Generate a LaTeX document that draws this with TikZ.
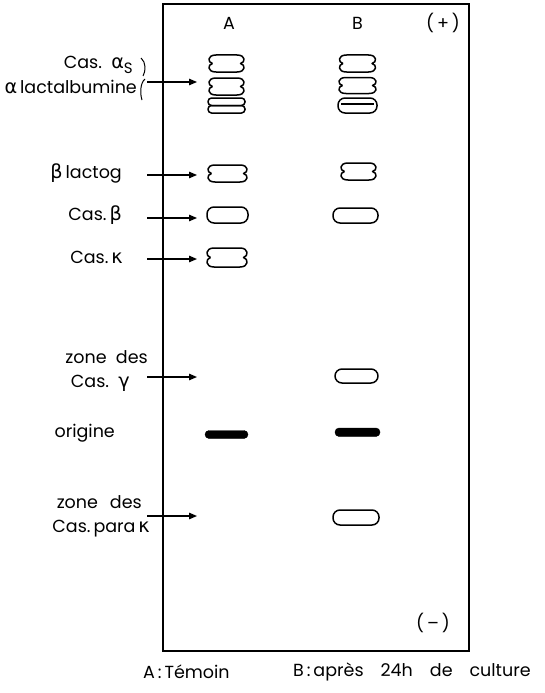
\documentclass[tikz,border=0pt]{standalone}
\usepackage{fontspec}
\setmainfont{Poppins}
\newfontfamily\grk[Scale=1.1]{DejaVu Sans}
\usetikzlibrary{arrows.meta}

% band with pinched (notched) sides: centre x, centre y, half width, half height
\newcommand\nband[4]{%
  \draw[band] ({#1-#3+4.5},#2)
    .. controls ({#1-#3-0.5},{#2-0.12*#4}) and ({#1-#3-1},{#2-#4}) .. ({#1-#3+8},{#2-#4})
    -- ({#1+#3-8},{#2-#4})
    .. controls ({#1+#3+1},{#2-#4}) and ({#1+#3+0.5},{#2-0.12*#4}) .. ({#1+#3-4.5},#2)
    .. controls ({#1+#3+0.5},{#2+0.12*#4}) and ({#1+#3+1},{#2+#4}) .. ({#1+#3-8},{#2+#4})
    -- ({#1-#3+8},{#2+#4})
    .. controls ({#1-#3-1},{#2+#4}) and ({#1-#3-0.5},{#2+0.12*#4}) .. ({#1-#3+4.5},#2);}

\begin{document}
\begin{tikzpicture}[x=1pt,y=-1pt,
  lbl/.style={font=\fontsize{17.5}{20}\selectfont, inner sep=0pt},
  band/.style={line width=1.5pt, line join=round},
  oval/.style={band, rounded corners=7pt},
  spot/.style={fill=black, rounded corners=4pt},
  arr/.style={line width=1.3pt, -{Triangle[length=8pt,width=6.5pt]}}]

\useasboundingbox (0,0) rectangle (545,693);

% plate
\draw[line width=1.5pt] (163,4) rectangle (469,651);

% column heads and poles
\node[lbl] (colA) at (229,23) {A};
\node[lbl] (colB) at (357.5,23) {B};
\node[lbl] (plus) at (443,23) {(\,+\,)};
\node[lbl] (minus) at (433,623) {(\,–\,)};

% legend
\node[lbl, anchor=west] (legA) at (143,672) {A\,:\,Témoin};
\node[lbl, anchor=west] (legB) at (293,672) {B\,:\,après\hspace{17pt}24h\hspace{17pt}de\hspace{17pt}culture};

% fraction labels
\node[lbl, anchor=east] (cas-as) at (133,65) {Cas.\ \ {\grk α}\raisebox{-0.45ex}{\fontsize{15}{15}\selectfont S}};
\node[lbl, anchor=east] (alac) at (137,87) {{\grk α}\,lactalbumine};
\node[lbl, anchor=east] (blac) at (122,173) {{\grk β}\,lactog};
\node[lbl, anchor=east] (casb) at (122,215) {Cas.\,{\grk β}};
\node[lbl, anchor=east] (cask) at (123,257) {Cas.\,{\grk κ}};
\node[lbl, anchor=east] (zg1) at (148,357) {zone\ \ des};
\node[lbl, anchor=east] (zg2) at (130,383) {Cas.\ \ {\grk γ}};
\node[lbl, anchor=east] (orig) at (115,433) {origine};
\node[lbl, anchor=east] (zp1) at (142,502) {zone\hspace{12pt}des};
\node[lbl, anchor=east] (zp2) at (150,529) {Cas.\,para\,{\grk κ}};

% brace pieces next to the first two labels
\draw[line width=1pt] (141,58) .. controls (146,62) and (146,71) .. (143,76);
\draw[line width=1pt] (145,79) .. controls (140,83) and (140,94) .. (142,100);

% arrow end points
\foreach \n/\y in {as/82, bl/175, cb/218, ck/259, cg/377, pk/516} {
  \coordinate (s-\n) at (147,\y);
  \coordinate (e-\n) at (197,\y);
}
\foreach \n in {as, bl, cb, ck, cg, pk}
  \draw[arr] (s-\n) -- (e-\n);

% lane A
\nband{226.5}{63.5}{18.5}{8.5}
\nband{226.5}{86.5}{18.5}{8.5}
\draw[band, rounded corners=3.5pt] (208,98) rectangle (245,105.5);
\draw[band, rounded corners=3.5pt] (208,105.5) rectangle (245,113);
\nband{227.5}{173.5}{20.5}{8.5}
\draw[oval] (207,207) rectangle (248,223);
\nband{227}{257.5}{21}{9.5}
\draw[spot] (205,430.5) rectangle (248,438.5);

% lane B
\nband{357.5}{63.5}{19}{8.5}
\nband{357.5}{85.5}{19.5}{8}
\draw[oval] (338,98) rectangle (377,113);
\draw[band] (341,104) -- (374,104);
\nband{358.5}{171.5}{18.5}{8.5}
\draw[oval] (333,208) rectangle (378,223);
\draw[oval] (335,369) rectangle (378,383);
\draw[spot] (335,428) rectangle (380,436.5);
\draw[oval] (333,510) rectangle (379,525);
\end{tikzpicture}
\end{document}
